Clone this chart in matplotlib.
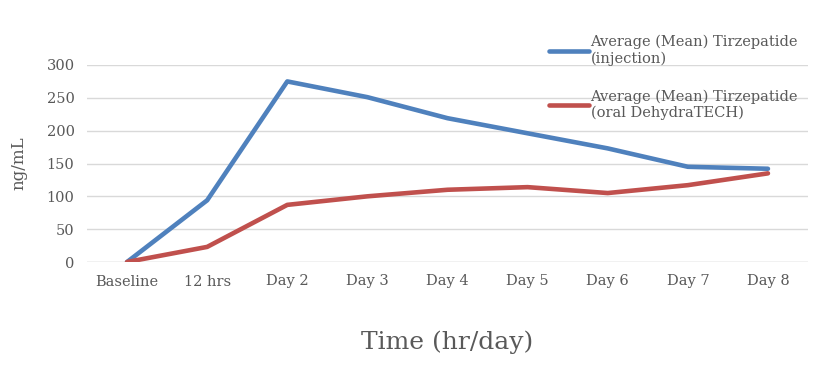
import matplotlib

matplotlib.use("Agg")
import matplotlib.pyplot as plt
import numpy as np

categories = ["Baseline", "12 hrs", "Day 2", "Day 3", "Day 4", "Day 5", "Day 6", "Day 7", "Day 8"]
injection = [0, 94, 275, 251, 219, 196, 173, 145, 142]
oral = [0, 23, 87, 100, 110, 114, 105, 117, 135]
series_labels = ["Average (Mean) Tirzepatide\n(injection)",
                 "Average (Mean) Tirzepatide\n(oral DehydraTECH)"]
yticks = [0, 50, 100, 150, 200, 250, 300]

TXT = "#595959"
plt.rcParams["font.family"] = ["DejaVu Serif"]

fig = plt.figure(figsize=(8.15, 3.73), dpi=100)
ax = fig.add_axes([87 / 815, 111 / 373, 721 / 815, 197 / 373])

x = np.arange(len(categories))
ax.plot(x, injection, color="#4F81BD", lw=3.3, label=series_labels[0], solid_capstyle="round")
ax.plot(x, oral, color="#C0504D", lw=3.3, label=series_labels[1], solid_capstyle="round")

ax.set_xlim(-0.5, len(categories) - 0.5)
ax.set_ylim(0, 300)
ax.set_yticks(yticks)
ax.set_xticks(x)
ax.set_xticklabels(categories)
ax.tick_params(length=0, colors=TXT, labelsize=10.5, pad=9)
ax.grid(axis="y", color="#d9d9d9", lw=1)
ax.set_axisbelow(True)
for s in ax.spines.values():
    s.set_visible(False)
ax.axhline(0, color="#d9d9d9", lw=1, zorder=0)

ax.set_ylabel("ng/mL", color=TXT, fontsize=12, labelpad=14)
ax.set_xlabel("Time (hr/day)", color=TXT, fontsize=18, labelpad=30)

leg = fig.legend(loc="upper left", bbox_to_anchor=(549 / 815, 1 - 35 / 373), frameon=False,
                 handlelength=2.75, handletextpad=0.1, labelspacing=1.6, fontsize=10.5,
                 borderaxespad=0, borderpad=0)
for t in leg.get_texts():
    t.set_color(TXT)

fig.savefig("out.png", dpi=100)
